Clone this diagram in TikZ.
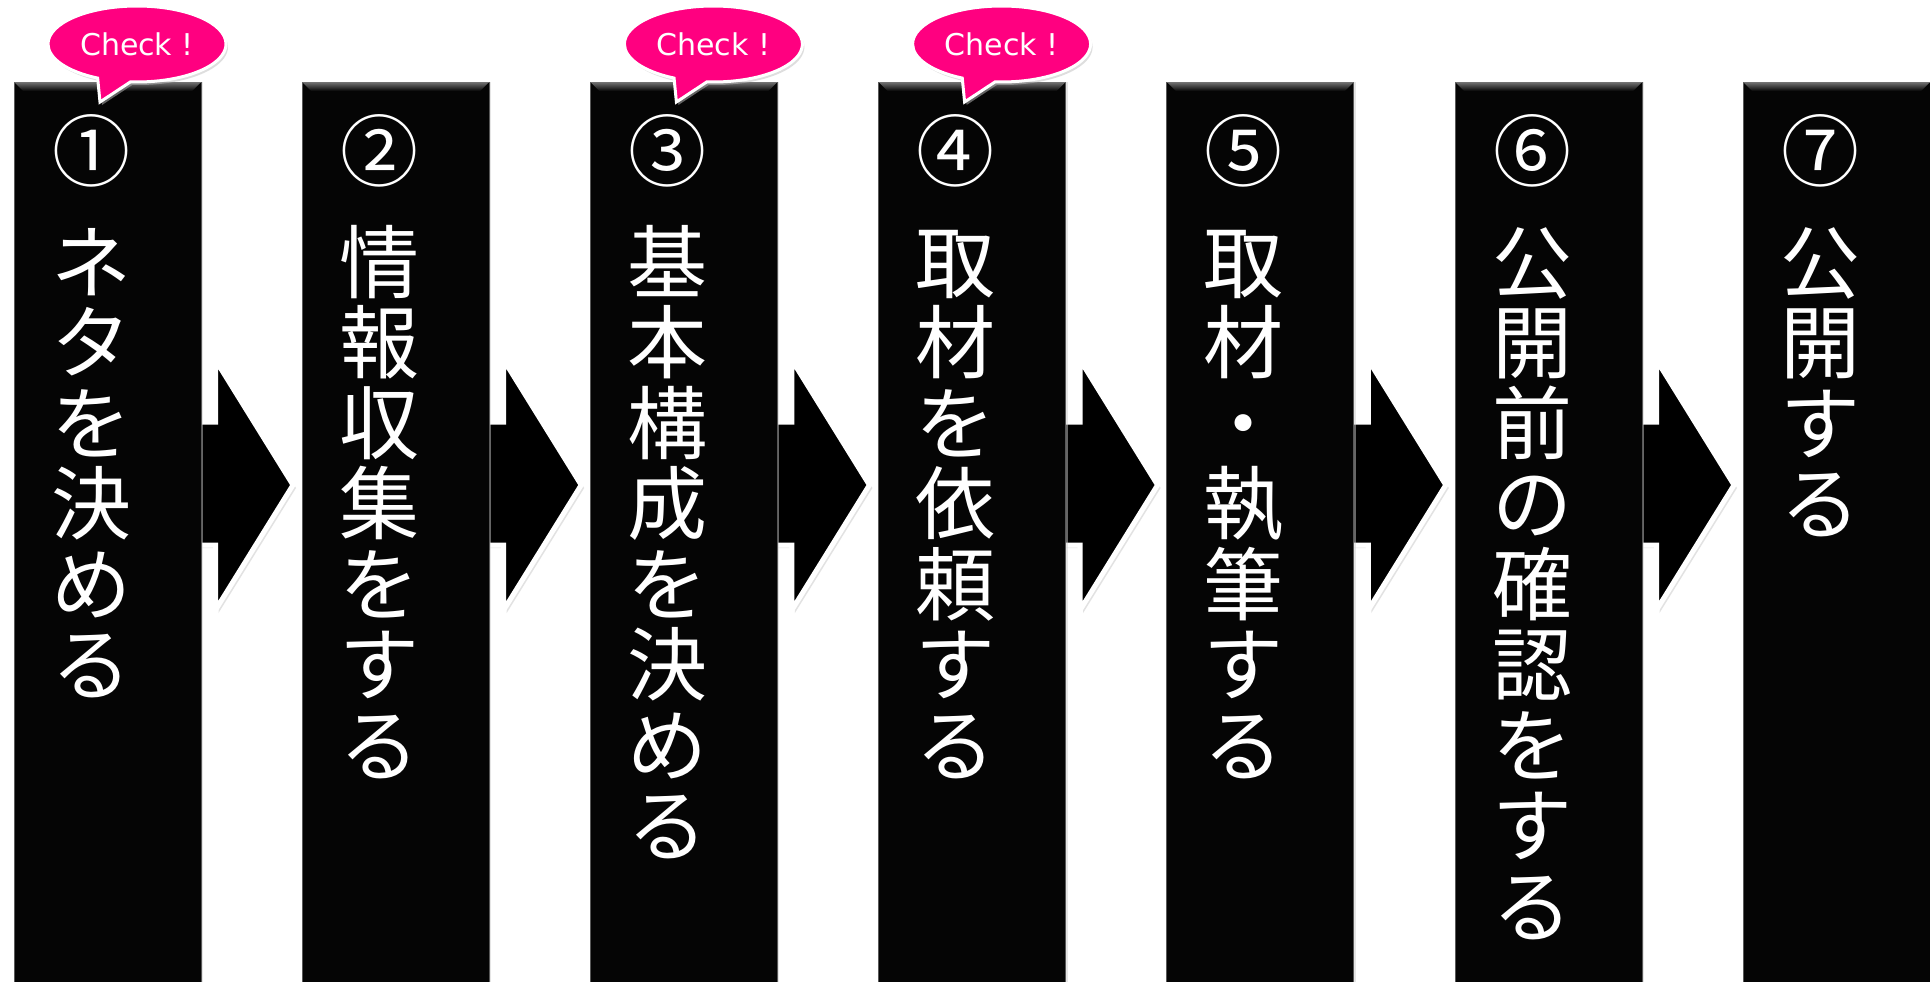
\documentclass[tikz,border=0pt]{standalone}
\usepackage{fontspec}
\setmainfont{DejaVu Sans}
\newfontfamily\jpfont{Noto Sans CJK JP}
\usetikzlibrary{calc,shapes.callouts,shadows}
\definecolor{checkpink}{RGB}{255,0,128}
\definecolor{stepblack}{RGB}{5,5,5}
\pgfdeclarelayer{back}
\pgfsetlayers{back,main}

\begin{document}
\begin{tikzpicture}[x=1pt,y=-1pt,
  colbox/.style={rectangle,fill=stepblack,draw=black!65,line width=1pt,minimum width=187pt,minimum height=910pt,inner sep=0pt,outer sep=0pt,anchor=north west,drop shadow={shadow xshift=2pt,shadow yshift=0pt,fill=black!20}},
  steparrow/.style={fill=black,draw=white,line width=5pt,line join=miter,drop shadow={shadow xshift=3pt,shadow yshift=-3pt,fill=black!22}},
  numtext/.style={text=white,inner sep=0pt,font=\jpfont\fontsize{78}{80}\selectfont},
  steptext/.style={text=white,inner sep=0pt,align=center,anchor=north,font=\jpfont\fontsize{80}{80.5}\selectfont},
  checkcallout/.style={ellipse callout,fill=checkpink,draw=white,line width=3pt,minimum width=178pt,minimum height=76pt,inner sep=0pt,callout pointer arc=22,text=white,font=\fontsize{30}{32}\selectfont,drop shadow={shadow xshift=2pt,shadow yshift=-3pt,fill=black!25}}]
\useasboundingbox (0,0) rectangle (1930,982);
\foreach \i/\num/\txt in {1/①/{ネ\\タ\\を\\決\\め\\る},
    2/②/{情\\報\\収\\集\\を\\す\\る},
    3/③/{基\\本\\構\\成\\を\\決\\め\\る},
    4/④/{取\\材\\を\\依\\頼\\す\\る},
    5/⑤/{取\\材\\・\\執\\筆\\す\\る},
    6/⑥/{公\\開\\前\\の\\確\\認\\を\\す\\る},
    7/⑦/{公\\開\\す\\る}}{
  \node[colbox] (col\i) at ({14+288.2*(\i-1)},82) {};
  \shade[top color=black!55,bottom color=stepblack] (col\i.north west) -- (col\i.north east) -- ++(-9,9) -- ($(col\i.north west)+(9,9)$) -- cycle;
  \node[numtext] (num\i) at ($(col\i.north west)+(77,69)$) {\num};
  \node[steptext] (txt\i) at ($(col\i.north west)+(77,138)$) {\rule{0pt}{72pt}\txt};
}
\begin{pgfonlayer}{back}
  \fill[white] (0,0) rectangle (1930,982);
  \foreach \i in {1,...,6}
    \draw[steparrow] ($(col\i.north east)+(-7,340)$) -- ++(21.5,0) -- ++(0,-62) -- ++(77.5,125) -- ++(-77.5,125) -- ++(0,-65) -- ++(-21.5,0) -- cycle;
\end{pgfonlayer}
\foreach \i in {1,3,4}
  \node[checkcallout,callout absolute pointer={($(col\i.north west)+(86,20)$)}] (chk\i) at ($(col\i.north west)+(123,-38)$) {Check !};
\end{tikzpicture}
\end{document}
